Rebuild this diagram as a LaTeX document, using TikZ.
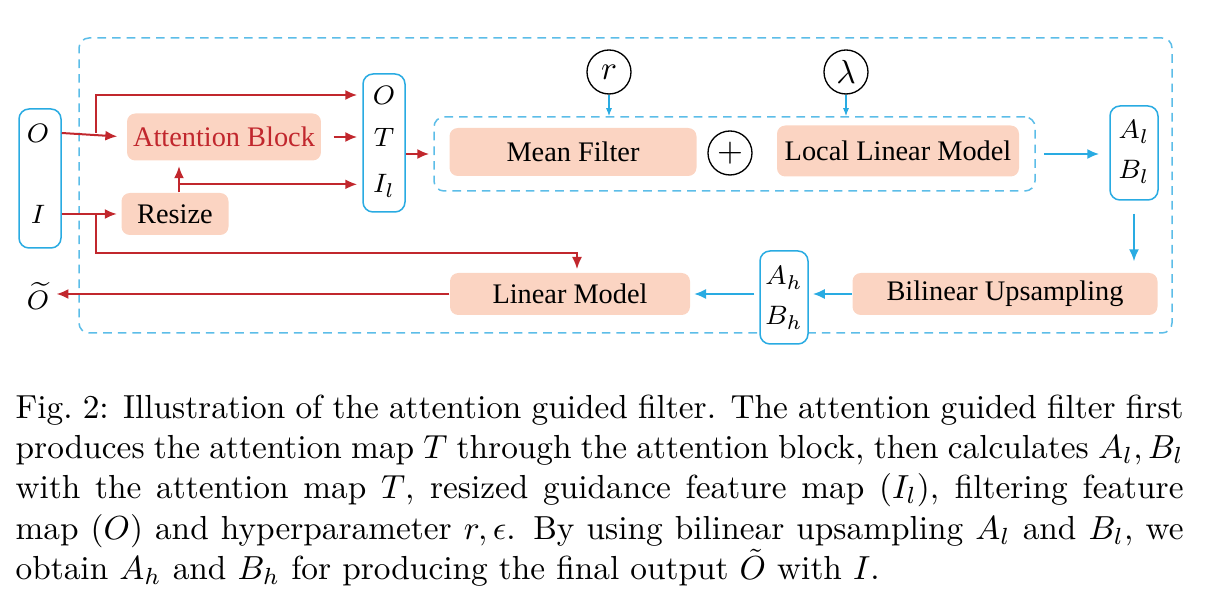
\documentclass[tikz,border=0pt]{standalone}
\usepackage{fontspec}
\newfontfamily\blockfont{Liberation Serif}
\usepackage{tikz}
\usetikzlibrary{ 
  	positioning,
  	arrows.meta,
  	calc,
  	fit
  }
\definecolor{agblue}{HTML}{29ABE2}
\definecolor{agdash}{HTML}{5CBDE8}
\definecolor{agred}{HTML}{C1272D}
\definecolor{agpeach}{HTML}{FBD4C2}

\begin{document}
\begin{tikzpicture}[x=.3pt, y=-.3pt,
  block/.style={fill=agpeach, rounded corners=2.5pt, inner sep=0pt, font=\blockfont\fontsize{8.5}{10}\selectfont},
  var/.style={inner sep=1pt, font=\fontsize{8}{9.6}\selectfont},
  varbox/.style={draw=agblue, fill=white, line width=.45pt, rounded corners=3pt, inner sep=0pt},
  dashbox/.style={draw=agdash, dash pattern=on 2.6pt off 1.8pt, rounded corners=3pt, line width=.45pt, inner sep=0pt},
  param/.style={draw, circle, minimum size=13.2pt, inner sep=0pt, line width=.4pt},
  redarr/.style={draw=agred, line width=.6pt, -{Latex[length=3.6pt,width=3pt]}},
  bluearr/.style={draw=agblue, line width=.6pt, -{Latex[length=3.6pt,width=3pt]}},
  thinarr/.style={draw=agblue, line width=.35pt, -{Latex[length=2.4pt,width=1.8pt]}}]
	\useasboundingbox (0,0) rectangle (1220,615);
	\node[dashbox, fit={(79,38) (1172,333)}] (agf) {};
%
	\node[varbox, fit={(19,109) (61,248)}] (in) {};
	\node[var] (O) at (38,133) {$O$};
	\node[var] (I) at (38,214) {$I$};
	\node[var] (out) at (38,296) {$\widetilde{O}$};
%
	\node[block, minimum width=58.2pt, minimum height=14.1pt, text=agred] (att) at (224,137) {Attention Block};
	\node[block, minimum width=32.1pt, minimum height=12.6pt] (rs) at (175,214) {Resize};
%
	\node[varbox, fit={(363,74) (405,212)}] (oti) {};
	\node[var] (Oa) at (384,95) {$O$};
	\node[var] (Ta) at (384,137) {$T$};
	\node[var] (Il) at (384,186) {$I_l$};
%
	\node[dashbox, fit={(434,117) (1035,191)}] (filt) {};
	\node[block, minimum width=74.1pt, minimum height=14.4pt] (mf) at (573,152) {Mean Filter};
	\node[param] (plus) at (730,153) {$+$};
	\node[block, minimum width=72.6pt, minimum height=15.3pt] (llm) at (898,151) {Local Linear Model};
	\node[param] (r) at (609,72) {$r$};
	\node[param] (lam) at (846,72) {$\lambda$};
%
	\node[varbox, fit={(1110,106) (1158,200)}] (low) {};
	\node[var] (Al) at (1134,132) {$A_l$};
	\node[var] (Bl) at (1134,172) {$B_l$};
	\node[block, minimum width=91.5pt, minimum height=12.6pt] (up) at (1005,294) {Bilinear Upsampling};
	\node[varbox, fit={(760,251) (808,344)}] (high) {};
	\node[var] (Ah) at (784,278) {$A_h$};
	\node[var] (Bh) at (784,318) {$B_h$};
	\node[block, minimum width=72pt, minimum height=12.6pt] (lin) at (570,294) {Linear Model};
	\coordinate (rsup) at ($(rs.north)+(4,-8)$);
%
	\draw[redarr, shorten >=2.7pt] (in.east |- O) -- (att.west);
	\draw[redarr, shorten >=1.5pt] ($(in.east |- O)+(34,0)$) |- (oti.west |- Oa);
	\draw[redarr, shorten >=1.2pt] (in.east |- I) -- (rs.west);
	\draw[redarr, line width=.45pt, shorten >=1pt] ($(in.east |- I)+(34,0)$) -- ++(0,39) -| ($(lin.north)+(7,0)$);
	\draw[redarr, shorten >=1.5pt] ($(rs.north)+(4,0)$) -- ($(att.south)+(-45,0)$);
	\draw[redarr, shorten >=1.5pt] (rsup) -- (rsup -| oti.west);
	\draw[redarr, shorten <=3.6pt, shorten >=1.5pt] (att.east) -- (oti.west |- Ta);
	\draw[redarr, shorten >=1.2pt] (oti.east |- filt.west) -- (filt.west);
	\draw[thinarr] (r) -- (r |- filt.north);
	\draw[thinarr] (lam) -- (lam |- filt.north);
	\draw[bluearr, shorten <=2.4pt, shorten >=3pt] (filt.east) -- (low.west |- filt.east);
	\draw[bluearr, shorten <=3.9pt, shorten >=3.3pt] (low.south) -- (low.south |- up.north);
	\draw[bluearr, shorten >=1.2pt] (up.west) -- (high.east |- up.west);
	\draw[bluearr, shorten <=1.5pt, shorten >=1pt] (high.west |- lin.east) -- (lin.east);
	\draw[redarr, shorten >=1pt] (lin.west) -- (lin.west -| out.east);
%
	\node[anchor=north west, inner sep=0pt, text width=350.4pt, align=justify, font=\fontsize{10}{12.1}\selectfont] (cap) at (15,394) {Fig.~2: Illustration of the attention guided filter. The attention guided filter first\linebreak produces the attention map $T$ through the attention block, then calculates $A_l, B_l$\linebreak with the attention map $T$, resized guidance feature map ($I_l$), filtering feature\linebreak map ($O$) and hyperparameter $r, \epsilon$. By using bilinear upsampling $A_l$ and $B_l$, we\linebreak obtain $A_h$ and $B_h$ for producing the final output $\tilde{O}$ with $I$.};
\end{tikzpicture}
\end{document}
